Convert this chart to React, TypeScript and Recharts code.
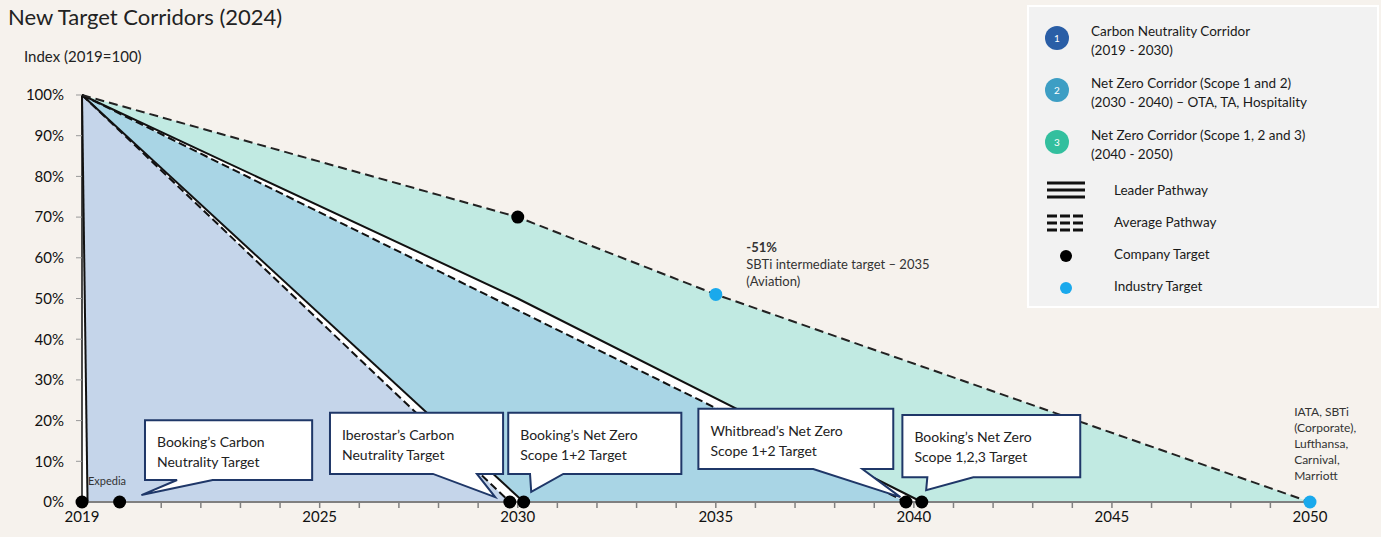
import React from 'react';
import {
  ComposedChart,
  Area,
  Line,
  Scatter,
  XAxis,
  YAxis,
  ReferenceArea,
  ReferenceDot
} from 'recharts';

// pathway data (index, 2019 = 100)
const avgPath3 = [
  { year: 2019, v: 100 },
  { year: 2030, v: 70 },
  { year: 2035, v: 51 },
  { year: 2050, v: 0 }
];
const leadPath2 = [
  { year: 2019, v: 100 },
  { year: 2030, v: 50 },
  { year: 2040.2, v: 0 }
];
const avgPath2 = [
  { year: 2019, v: 100 },
  { year: 2039.8, v: 0 }
];
const leadPath1 = [
  { year: 2019, v: 100 },
  { year: 2030.15, v: 0 }
];
const avgPath1 = [
  { year: 2019, v: 100 },
  { year: 2029.8, v: 0 }
];
const expediaPath = [
  { year: 2019, v: 100 },
  { year: 2019.14, v: 0 }
];

const companyTargets = [
  { year: 2019, v: 0 },
  { year: 2019.95, v: 0 },
  { year: 2029.8, v: 0 },
  { year: 2030.15, v: 0 },
  { year: 2039.8, v: 0 },
  { year: 2040.2, v: 0 },
  { year: 2030, v: 70 }
];
const industryTargets = [
  { year: 2035, v: 51 },
  { year: 2050, v: 0 }
];

const xTicks = [
  2019, 2020, 2021, 2022, 2023, 2024, 2025, 2026, 2027, 2028, 2029, 2030, 2031, 2032, 2033, 2034,
  2035, 2036, 2037, 2038, 2039, 2040, 2041, 2042, 2043, 2044, 2045, 2046, 2047, 2048, 2049, 2050
];
const xLabels = [2019, 2025, 2030, 2035, 2040, 2045, 2050];
const yTicks = [0, 10, 20, 30, 40, 50, 60, 70, 80, 90, 100];

// callout boxes: box extent, pointer base on bottom edge, pointer tip
const callouts = [
  { lines: ['Booking’s Carbon', 'Neutrality Target'], x1: 2020.59, x2: 2024.81, y1: 5.4, y2: 20.1, b1: 2021.4, b2: 2022.3, tx: 2020.5, ty: 1.7 },
  { lines: ['Iberostar’s Carbon', 'Neutrality Target'], x1: 2025.26, x2: 2029.63, y1: 6.9, y2: 21.9, b1: 2027.86, b2: 2028.97, tx: 2029.43, ty: 1.2 },
  { lines: ['Booking’s Net Zero', 'Scope 1+2 Target'], x1: 2029.76, x2: 2034.13, y1: 6.9, y2: 21.9, b1: 2030.31, b2: 2031.15, tx: 2030.34, ty: 2.5 },
  { lines: ['Whitbread’s Net Zero', 'Scope 1+2  Target'], x1: 2034.56, x2: 2039.48, y1: 8.1, y2: 22.9, b1: 2037.46, b2: 2038.7, tx: 2039.66, ty: 1.2 },
  { lines: ['Booking’s Net Zero', 'Scope 1,2,3 Target'], x1: 2039.71, x2: 2044.2, y1: 6.1, y2: 21.4, b1: 2040.34, b2: 2041.5, tx: 2040.31, ty: 2.9 }
];

const notes = [
  { year: 2019.15, v: 4.2, size: 11, lines: ['Expedia'], boldFirst: false },
  { year: 2035.77, v: 61.4, size: 13, lines: ['-51%', 'SBTi intermediate target – 2035', '(Aviation)'], boldFirst: true },
  { year: 2049.6, v: 21.1, size: 12, lines: ['IATA, SBTi', '(Corporate),', 'Lufthansa,', 'Carnival,', 'Marriott'], boldFirst: false }
];

const corridors = [
  { n: '1', color: '#2a5ea6', lines: ['Carbon Neutrality Corridor', '(2019 - 2030)'] },
  { n: '2', color: '#3d9ec4', lines: ['Net Zero Corridor (Scope 1 and 2)', '(2030 - 2040) – OTA, TA, Hospitality'] },
  { n: '3', color: '#33bf9e', lines: ['Net Zero Corridor (Scope 1, 2 and 3)', '(2040 - 2050)'] }
];

const FONT = 'Lato, "Open Sans", sans-serif';
const BG = '#f6f2ed';

const CalloutShape = (props: any) => {
  const { x, y, width, height, c } = props;
  const sx = width / (c.x2 - c.x1);
  const sy = height / (c.y2 - c.y1);
  const bl = x + (c.b1 - c.x1) * sx;
  const br = x + (c.b2 - c.x1) * sx;
  const tx = x + (c.tx - c.x1) * sx;
  const ty = y + (c.y2 - c.ty) * sy;
  const d = `M${x},${y} H${x + width} V${y + height} H${br} L${tx},${ty} L${bl},${y + height} H${x} Z`;
  return (
    <g>
      <path d={d} fill="#ffffff" stroke="#1f3768" strokeWidth={2} strokeLinejoin="miter" />
      {c.lines.map((t: string, i: number) => (
        <text key={i} x={x + 12} y={y + 27 + i * 20} fontSize={14} fill="#222" fontFamily={FONT}>
          {t}
        </text>
      ))}
    </g>
  );
};

const NoteShape = (props: any) => {
  const { cx, cy, note } = props;
  return (
    <text x={cx} y={cy} fontSize={note.size} fill="#333" fontFamily={FONT}>
      {note.lines.map((t: string, i: number) => (
        <tspan key={i} x={cx} dy={i === 0 ? 0 : note.size + 4} fontWeight={note.boldFirst && i === 0 ? 700 : 400}>
          {t}
        </tspan>
      ))}
    </text>
  );
};

const Dot = (color: string) => (props: any) => (
  <circle cx={props.cx} cy={props.cy} r={6.5} fill={color} />
);

const LegendBox = () => (
  <div
    style={{
      position: 'absolute',
      left: 1027,
      top: 5,
      width: 348,
      height: 299,
      background: '#f2f2f2',
      border: '2px solid #ffffff',
      fontFamily: FONT,
      fontSize: 13.5,
      color: '#1a1a1a'
    }}
  >
    {corridors.map((c, i) => (
      <div key={c.n} style={{ position: 'absolute', left: 0, top: 19 + i * 52, width: 348 }}>
        <div
          style={{
            position: 'absolute',
            left: 16,
            top: 0,
            width: 24,
            height: 24,
            borderRadius: 12,
            background: c.color,
            color: '#fff',
            fontSize: 10,
            lineHeight: '24px',
            textAlign: 'center'
          }}
        >
          {c.n}
        </div>
        <div style={{ position: 'absolute', left: 62, top: -4, lineHeight: '19px' }}>
          {c.lines.map((t) => (
            <div key={t}>{t}</div>
          ))}
        </div>
      </div>
    ))}
    <svg style={{ position: 'absolute', left: 0, top: 0 }} width={348} height={299}>
      {[176, 183, 190].map((yy) => (
        <line key={yy} x1={18} x2={56} y1={yy} y2={yy} stroke="#111" strokeWidth={3} />
      ))}
      {[209, 216, 223].map((yy) => (
        <line key={yy} x1={18} x2={56} y1={yy} y2={yy} stroke="#111" strokeWidth={3} strokeDasharray="10 3" />
      ))}
      <circle cx={37} cy={249} r={6} fill="#000" />
      <circle cx={37} cy={281} r={6} fill="#1aa9ec" />
    </svg>
    {['Leader Pathway', 'Average Pathway', 'Company Target', 'Industry Target'].map((t, i) => (
      <div key={t} style={{ position: 'absolute', left: 85, top: 174 + i * 32, lineHeight: '19px' }}>
        {t}
      </div>
    ))}
  </div>
);

export default function App() {
  return (
    <div
      style={{
        position: 'absolute',
        left: 0,
        top: 0,
        width: 1381,
        height: 537,
        background: BG,
        overflow: 'hidden'
      }}
    >
      <div style={{ position: 'absolute', left: 8, top: 3, fontFamily: FONT, fontSize: 22, color: '#222' }}>
        New Target Corridors (2024)
      </div>
      <div style={{ position: 'absolute', left: 24, top: 47, fontFamily: FONT, fontSize: 15, color: '#222' }}>
        Index (2019=100)
      </div>
      <ComposedChart width={1381} height={537} margin={{ top: 95, right: 71, bottom: 0, left: 0 }}>
        <XAxis
          type="number"
          dataKey="year"
          domain={[2019, 2050]}
          ticks={xTicks}
          interval={0}
          tickFormatter={(v: number) => (xLabels.includes(v) ? String(v) : '')}
          height={35}
          axisLine={{ stroke: '#808080', strokeWidth: 2 }}
          tickLine={{ stroke: '#808080', strokeWidth: 1.5 }}
          tickSize={6}
          tickMargin={3}
          tick={{ fill: '#111', fontSize: 15, fontFamily: FONT }}
        />
        <YAxis
          type="number"
          dataKey="v"
          domain={[0, 100]}
          ticks={yTicks}
          interval={0}
          width={82}
          axisLine={{ stroke: '#111', strokeWidth: 1.5 }}
          tickLine={{ stroke: '#999' }}
          tickSize={6}
          tickMargin={12}
          tickFormatter={(v: number) => `${v}%`}
          tick={{ fill: '#111', fontSize: 15, fontFamily: FONT }}
        />

        {/* corridor fills, layered from widest to narrowest */}
        <Area data={avgPath3} dataKey="v" type="linear" stroke="none" fill="#c1eae2" fillOpacity={1} isAnimationActive={false} />
        <Area data={leadPath2} dataKey="v" type="linear" stroke="none" fill="#ffffff" fillOpacity={1} isAnimationActive={false} />
        <Area data={avgPath2} dataKey="v" type="linear" stroke="none" fill="#a9d5e5" fillOpacity={1} isAnimationActive={false} />
        <Area data={leadPath1} dataKey="v" type="linear" stroke="none" fill="#ffffff" fillOpacity={1} isAnimationActive={false} />
        <Area data={avgPath1} dataKey="v" type="linear" stroke="none" fill="#c5d5ea" fillOpacity={1} isAnimationActive={false} />
        <Area data={expediaPath} dataKey="v" type="linear" stroke="none" fill="#ffffff" fillOpacity={1} isAnimationActive={false} />

        {/* pathways */}
        <Line data={expediaPath} dataKey="v" type="linear" stroke="#111" strokeWidth={2} dot={false} isAnimationActive={false} />
        <Line data={leadPath1} dataKey="v" type="linear" stroke="#111" strokeWidth={2} dot={false} isAnimationActive={false} />
        <Line data={avgPath1} dataKey="v" type="linear" stroke="#111" strokeWidth={2} strokeDasharray="8 4" dot={false} isAnimationActive={false} />
        <Line data={leadPath2} dataKey="v" type="linear" stroke="#111" strokeWidth={2} dot={false} isAnimationActive={false} />
        <Line data={avgPath2} dataKey="v" type="linear" stroke="#111" strokeWidth={2} strokeDasharray="8 4" dot={false} isAnimationActive={false} />
        <Line data={avgPath3} dataKey="v" type="linear" stroke="#222" strokeWidth={2} strokeDasharray="9 5" dot={false} isAnimationActive={false} />

        {callouts.map((c, i) => (
          <ReferenceArea
            key={i}
            x1={c.x1}
            x2={c.x2}
            y1={c.y1}
            y2={c.y2}
            zIndex={500}
            shape={(p: any) => <CalloutShape {...p} c={c} />}
          />
        ))}

        {notes.map((n, i) => (
          <ReferenceDot key={i} x={n.year} y={n.v} r={0} shape={(p: any) => <NoteShape {...p} note={n} />} />
        ))}

        <Scatter data={companyTargets} dataKey="v" shape={Dot('#000')} zIndex={700} isAnimationActive={false} />
        <Scatter data={industryTargets} dataKey="v" shape={Dot('#1aa9ec')} zIndex={700} isAnimationActive={false} />
      </ComposedChart>
      <LegendBox />
    </div>
  );
}
